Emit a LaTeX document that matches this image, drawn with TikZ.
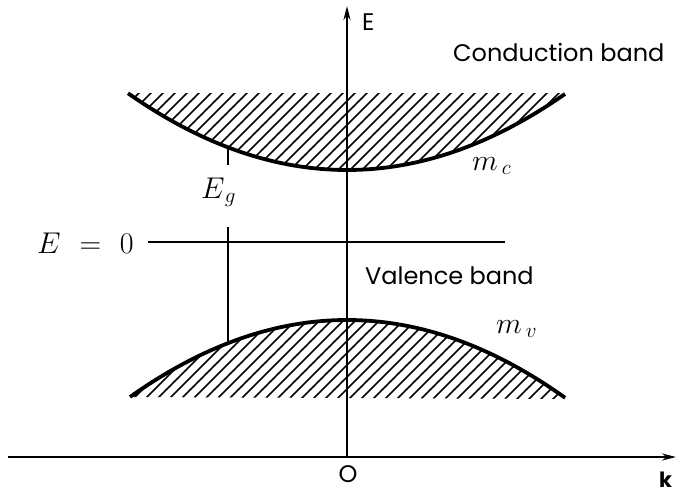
\RequirePackage{fix-cm}
\documentclass[tikz,border=0pt]{standalone}
\usepackage{fontspec}
\newfontfamily\lblfont{Poppins}
\usetikzlibrary{arrows.meta}
\begin{document}
\begin{tikzpicture}[x=1pt,y=-1pt,
  axis/.style={line width=2.2pt,-{Stealth[length=14pt,width=7pt]}},
  band/.style={line width=3.8pt},
  hatch/.style={line width=1.6pt},
  thinline/.style={line width=2pt},
  sanslbl/.style={font=\lblfont\fontsize{24}{26}\selectfont, inner sep=0pt},
  mathlbl/.style={font=\fontsize{30}{32}\selectfont, inner sep=0pt}]
\useasboundingbox (0,0) rectangle (678,493);

% hatching conduction band
\begin{scope}
  \clip (128,93) -- plot[domain=128:565, samples=60] (\x,{170-0.16*((\x-347)/10)^2}) -- (565,93) -- cycle;
  \foreach \t in {-300,-288,...,600} \draw[hatch] (\t,400) -- (\t+400,0);
\end{scope}
% hatching valence band
\begin{scope}
  \clip (130,397) -- plot[domain=130:565, samples=60] (\x,{320+0.1635*((\x-347)/10)^2}) -- (565,399) -- cycle;
  \foreach \t in {-300,-288,...,700} \draw[hatch] (\t,700) -- (\t+400,300);
\end{scope}

% band curves
\draw[band] plot[domain=128:565, samples=80] (\x,{170-0.16*((\x-347)/10)^2});
\draw[band] plot[domain=130:565, samples=80] (\x,{320+0.1635*((\x-347)/10)^2});

% axes
\coordinate (kL) at (8,457);
\coordinate (kR) at (676,457);
\coordinate (eB) at (347,457);
\coordinate (eT) at (347,6);
\draw[axis] (kL) -- (kR);
\draw[axis] (eB) -- (eT);

% E = 0 line
\coordinate (z0) at (148,242);
\coordinate (z1) at (505,242);
\draw[thinline] (z0) -- (z1);

% Eg marks
\coordinate (egtop) at (228,147);
\coordinate (egtick) at (228,165);
\coordinate (eglow) at (228,227);
\coordinate (egv) at (228,342);
\draw[thinline] (egtop) -- (egtick);
\draw[thinline] (eglow) -- (egv);

% labels
\node[mathlbl, anchor=base west] (eq) at (37,253) {$E\hspace{0.35em}=\hspace{0.35em}0$};
\node[mathlbl, anchor=base west] (eg) at (201,198) {$E_{\hspace{2pt}g}$};
\node[mathlbl, anchor=base west] (mc) at (472,170) {$m_{\hspace{4pt}c}$};
\node[mathlbl, anchor=base west] (mv) at (496,333) {$m_{\hspace{4pt}v}$};

\node[sanslbl, anchor=base west] (Elbl) at (362,30) {E};
\node[sanslbl, anchor=base west] (cb) at (453,61) {Conduction band};
\node[sanslbl, anchor=base west] (vb) at (365,284) {Valence band};
\node[sanslbl, anchor=base] (o) at (348,482) {O};
\node[sanslbl, anchor=base west, font=\lblfont\bfseries\fontsize{21}{24}\selectfont] (k) at (659,487) {k};
\end{tikzpicture}
\end{document}
